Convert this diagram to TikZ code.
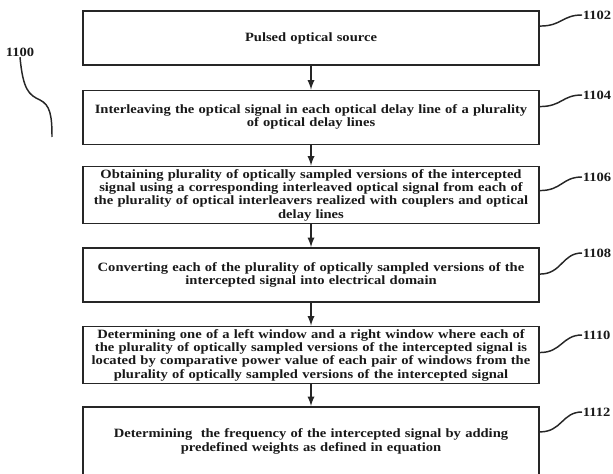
\documentclass[tikz,border=0pt]{standalone}
\usepackage{fontspec}
\setmainfont{Liberation Serif}[FakeStretch=1.15]
\usepackage{tikz}
\usetikzlibrary{arrows,positioning}

\tikzset{
  stepbox/.style={draw=black!85, line width=1.4pt, rectangle, minimum width=342pt,
    minimum height=40.5pt, inner sep=2pt, text width=336pt, align=center,
    text=black!90, font=\bfseries\fontsize{9.5}{10}\selectfont},
  reflabel/.style={inner sep=0.5pt, text=black!90, font=\bfseries\fontsize{9.5}{10}\selectfont},
  flow/.style={-latex, draw=black!85, line width=1.4pt},
  lead/.style={draw=black!85, line width=1.1pt}
}

\begin{document}
\begin{tikzpicture}[x=0.75pt,y=-0.75pt]
\useasboundingbox (0,0) rectangle (613,474);
\node[stepbox] (s1) at (311,38) {Pulsed optical source};
\node[stepbox, text depth=13pt] (s2) at (311,117.5) {Interleaving the optical signal in each optical delay line of a plurality\\ of optical delay lines};
\node[stepbox] (s3) at (311,195) {Obtaining plurality of optically sampled versions of the intercepted\\ signal using a corresponding interleaved optical signal from each of\\ the plurality of optical interleavers realized with couplers and optical\\ delay lines};
\node[stepbox] (s4) at (311,275) {Converting each of the plurality of optically sampled versions of the\\ intercepted signal into electrical domain};
\node[stepbox] (s5) at (311,355) {Determining one of a left window and a right window where each of\\ the plurality of optically sampled versions of the intercepted signal is\\ located by comparative power value of each pair of windows from the\\ plurality of optically sampled versions of the intercepted signal};
\node[stepbox, minimum height=52pt] (s6) at (311,441.5) {Determining\ \ the frequency of the intercepted signal by adding\\ predefined weights as defined in equation};
% arrows between steps
\draw[flow] (s1.south) -- (s2.north);
\draw[flow] (s2.south) -- (s3.north);
\draw[flow] (s3.south) -- (s4.north);
\draw[flow] (s4.south) -- (s5.north);
\draw[flow] (s5.south) -- (s6.north);
% reference numerals
\node[reflabel, anchor=west] (n1) at (582,15) {1102};
\node[reflabel, anchor=west] (n2) at (582,95) {1104};
\node[reflabel, anchor=west] (n3) at (582,177) {1106};
\node[reflabel, anchor=west] (n4) at (582,253) {1108};
\node[reflabel, anchor=west] (n5) at (582,335) {1110};
\node[reflabel, anchor=west] (n6) at (582,412) {1112};
\draw[lead] ([yshift=-12pt]s1.north east) .. controls +(22,0) and +(-20,0) .. (n1.west);
\draw[lead] ([yshift=-12.75pt]s2.north east) .. controls +(22,0) and +(-20,0) .. (n2.west);
\draw[lead] ([yshift=-18.75pt]s3.north east) .. controls +(22,0) and +(-20,0) .. (n3.west);
\draw[lead] ([yshift=-20.25pt]s4.north east) .. controls +(22,0) and +(-20,0) .. (n4.west);
\draw[lead] ([yshift=-20.25pt]s5.north east) .. controls +(22,0) and +(-20,0) .. (n5.west);
\draw[lead] ([yshift=-19.5pt]s6.north east) .. controls +(22,0) and +(-20,0) .. (n6.west);
% figure numeral
\node[reflabel] (fig) at (20,52) {1100};
\coordinate (tail) at (52,137);
\draw[lead] (fig.south) .. controls (23,90) and (29,95) .. (40,100) .. controls (50,105) and (52,115) .. (tail);
\end{tikzpicture}
\end{document}
